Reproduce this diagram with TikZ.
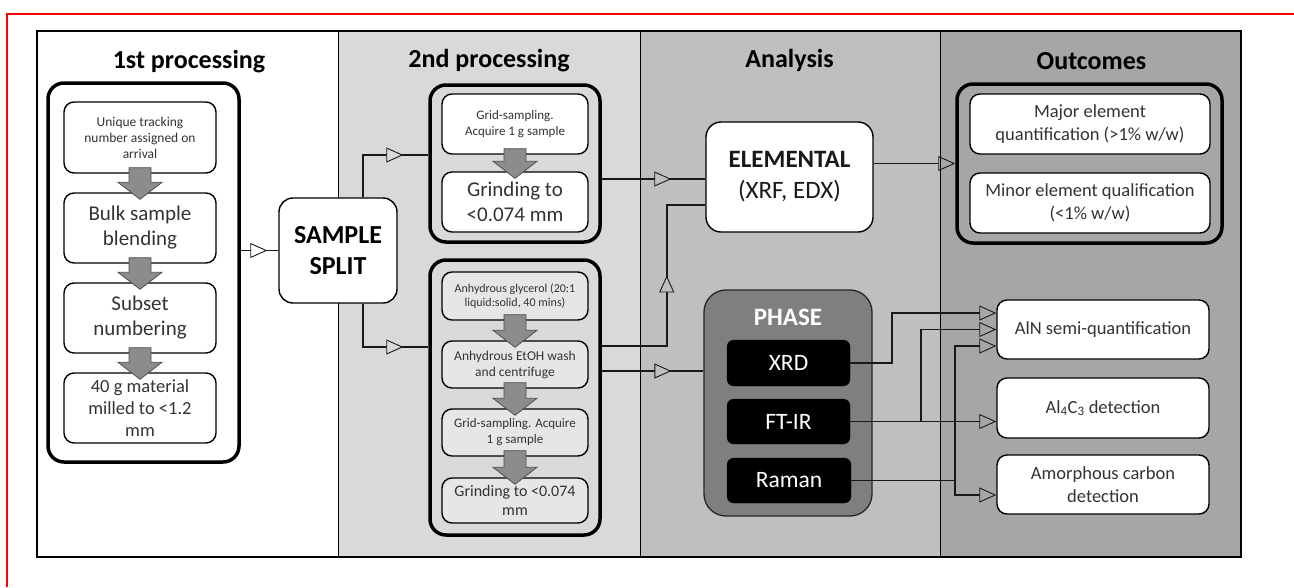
\documentclass[tikz,border=0pt]{standalone}
\usepackage{fontspec}
\setmainfont{Carlito}
\usetikzlibrary{arrows.meta,decorations.markings,calc}
\definecolor{colA}{HTML}{FFFFFF}
\definecolor{colB}{HTML}{D9D9D9}
\definecolor{colC}{HTML}{BFBFBF}
\definecolor{colD}{HTML}{A6A6A6}
\definecolor{txtgray}{HTML}{333333}
\definecolor{arrgray}{HTML}{8C8C8C}
\definecolor{arrdark}{HTML}{505050}
\definecolor{phasegray}{HTML}{7F7F7F}
\definecolor{dotfill}{HTML}{E6E6E6}
\definecolor{redline}{HTML}{FF0000}
\tikzset{
  title/.style={font=\bfseries\fontsize{26}{30}\selectfont, text=black},
  groupbox/.style={draw=black, line width=3.5pt, rounded corners=16pt, inner sep=0pt},
  box/.style={draw=black, line width=1.4pt, rounded corners=10pt, fill=white, align=center, inner sep=0pt, text=txtgray},
  dotbox/.style={box, fill=dotfill},
  blackbox/.style={draw=black, fill=black, rounded corners=7pt, text=white, inner sep=0pt, font=\fontsize{23.5}{28}\selectfont},
  blockarrow/.style={fill=arrgray, draw=arrdark, line width=0.8pt},
  conn/.style={draw=black!90, line width=1.5pt},
  endtri/.style={-{Triangle[open,length=17pt,width=15pt,line width=0.9pt]}},
  midtri/.style 2 args={postaction={decorate,decoration={markings,
      mark=at position -#1 with {\arrow{Triangle[length=17pt,width=15pt,fill=#2,line width=0.9pt]}}}}}
}
\newcommand\grayarr[2]{%
  \path[blockarrow] let \p1=(#1.south), \p2=(#2.north) in
    (\x1-11pt,\y1+6pt) -- (\x1+11pt,\y1+6pt) -- (\x1+11pt,\y2+10pt) -- (\x1+22pt,\y2+10pt)
    -- (\x1,\y2-7pt) -- (\x1-22pt,\y2+10pt) -- (\x1-11pt,\y2+10pt) -- cycle;}
\begin{document}
\begin{tikzpicture}[x=1pt,y=-1pt]
\useasboundingbox (0,0) rectangle (1294,587);
% red frame
\draw[redline, line width=2.5pt] (1294,14) -- (7,14) -- (7,587);
% columns
\fill[colA] (37,31) rectangle (338,557);
\fill[colB] (338,31) rectangle (640,557);
\fill[colC] (640,31) rectangle (940,557);
\fill[colD] (940,31) rectangle (1241,557);
\draw[black, line width=1pt] (338,31) -- (338,557) (640,31) -- (640,557) (940,31) -- (940,557);
\draw[black, line width=1.5pt] (37,31) rectangle (1241,557);
% titles
\node[title] (h1) at (189,62) {1st processing};
\node[title] (h2) at (489,61) {2nd processing};
\node[title] (h3) at (789.5,60) {Analysis};
\node[title] (h4) at (1091.5,61) {Outcomes};
% 1st processing
\node[groupbox, minimum width=191pt, minimum height=379pt] (g1) at (143.5,272.5) {};
\node[box, minimum width=152pt, minimum height=71pt, font=\fontsize{13.5}{16}\selectfont] (b1) at (140,137.5) {Unique tracking\\number assigned on\\arrival};
\node[box, minimum width=152pt, minimum height=70pt, font=\fontsize{21}{25}\selectfont] (b2) at (140,228) {Bulk sample\\blending};
\node[box, minimum width=152pt, minimum height=70pt, font=\fontsize{21}{25}\selectfont] (b3) at (140,318) {Subset\\numbering};
\node[box, minimum width=152pt, minimum height=70pt, font=\fontsize{18.5}{22}\selectfont] (b4) at (140,408) {40 g material\\milled to <1.2\\mm};
\grayarr{b1}{b2}
\grayarr{b2}{b3}
\grayarr{b3}{b4}
% sample split
\node[box, text=black, rounded corners=14pt, minimum width=118pt, minimum height=105pt, font=\bfseries\fontsize{26}{31}\selectfont] (split) at (338,250.5) {SAMPLE\\SPLIT};
% 2nd processing top
\node[groupbox, minimum width=170pt, minimum height=157pt] (tg) at (515,163.5) {};
\node[box, minimum width=146pt, minimum height=60pt, font=\fontsize{13}{16}\selectfont] (t1) at (515,124) {Grid-sampling.\\Acquire 1 g sample};
\node[box, minimum width=146pt, minimum height=60pt, font=\fontsize{21}{25}\selectfont] (t2) at (515,202) {Grinding to\\<0.074 mm};
\grayarr{t1}{t2}
% 2nd processing bottom
\node[groupbox, minimum width=170pt, minimum height=275pt] (bg) at (515,397.5) {};
\node[dotbox, minimum width=146pt, minimum height=48pt, font=\fontsize{12}{14.5}\selectfont] (u1) at (515,296) {Anhydrous glycerol (20:1\\liquid:solid, 40 mins)};
\node[dotbox, minimum width=146pt, minimum height=47pt, font=\fontsize{13.5}{16}\selectfont] (u2) at (515,364.5) {Anhydrous EtOH wash\\and centrifuge};
\node[dotbox, minimum width=146pt, minimum height=47pt, font=\fontsize{13}{16}\selectfont] (u3) at (515,432.5) {Grid-sampling. Acquire\\1 g sample};
\node[dotbox, minimum width=146pt, minimum height=45pt, font=\fontsize{16}{19}\selectfont] (u4) at (515,500.5) {Grinding to <0.074\\mm};
\grayarr{u1}{u2}
\grayarr{u2}{u3}
\grayarr{u3}{u4}
% analysis
\node[box, text=black!90, rounded corners=15pt, minimum width=167pt, minimum height=110pt, font=\fontsize{25}{31}\selectfont] (el) at (789.5,177) {\textbf{ELEMENTAL}\\(XRF, EDX)};
\node[draw=black!85, line width=1.3pt, fill=phasegray, rounded corners=22pt, minimum width=168pt, minimum height=226pt, inner sep=0pt] (ph) at (788,403) {};
\node[text=white, font=\bfseries\fontsize{25}{30}\selectfont] (phl) at (788,317) {PHASE};
\node[blackbox, minimum width=123pt, minimum height=46pt] (xrd) at (788.5,363) {XRD};
\node[blackbox, minimum width=123pt, minimum height=45pt] (ftir) at (788.5,421.5) {FT-IR};
\node[blackbox, minimum width=124pt, minimum height=45pt] (raman) at (789,480.5) {Raman};
% outcomes
\node[groupbox, minimum width=265pt, minimum height=159pt] (og) at (1089.5,163.5) {};
\node[box, minimum width=240pt, minimum height=60pt, font=\fontsize{18.5}{23}\selectfont] (o1) at (1090,124) {Major element\\quantification (>1\% w/w)};
\node[box, minimum width=240pt, minimum height=60pt, font=\fontsize{18.5}{23}\selectfont] (o2) at (1090,203) {Minor element qualification\\(<1\% w/w)};
\node[box, minimum width=212pt, minimum height=59pt, font=\fontsize{18.5}{23}\selectfont] (aln) at (1103,329.5) {AlN semi-quantification};
\node[box, minimum width=212pt, minimum height=60pt, font=\fontsize{18.5}{23}\selectfont] (alc) at (1103,408) {Al\textsubscript{4}C\textsubscript{3} detection};
\node[box, minimum width=212pt, minimum height=59pt, font=\fontsize{18.5}{23}\selectfont] (amo) at (1103,484.5) {Amorphous carbon\\detection};
% connectors
\coordinate (tgout) at ([yshift=-15.5pt]tg.east);
\coordinate (bgo1) at ([yshift=51.5pt]bg.east);
\coordinate (bgo2) at ([yshift=26.5pt]bg.east);
\draw[conn, midtri={11pt}{colA}] (g1.east |- split.west) -- (split.west);
\draw[conn, midtri={25pt}{colB}] ([xshift=25pt]split.north) |- ([yshift=8.5pt]tg.west);
\draw[conn, midtri={25pt}{colB}] ([xshift=25pt]split.south) |- ([yshift=50.5pt]bg.west);
\draw[conn, midtri={34pt}{colC}] (tgout) -- (tgout -| el.west);
\draw[conn, midtri={109pt}{colC}] (bgo1) -- ++(65pt,0) |- ([yshift=-28pt]el.west);
\draw[conn, midtri={32pt}{colC}] (bgo2) -- (bgo2 -| ph.west);
\draw[conn, endtri] (og.west -| el.east) -- (og.west);
\draw[conn, endtri] (xrd.east) -- ++(42pt,0) |- ([yshift=16.5pt]aln.west);
\draw[conn, endtri] (ftir.east) -- (ftir.east -| alc.west);
\draw[conn, endtri] (ftir.east) -- ++(71pt,0) |- (aln.west);
\draw[conn, endtri] (raman.east) -- ++(104pt,0) |- ([yshift=-16.5pt]aln.west);
\draw[conn, endtri] (raman.east) -- ++(104pt,0) |- ([yshift=-10.5pt]amo.west);
\end{tikzpicture}
\end{document}
